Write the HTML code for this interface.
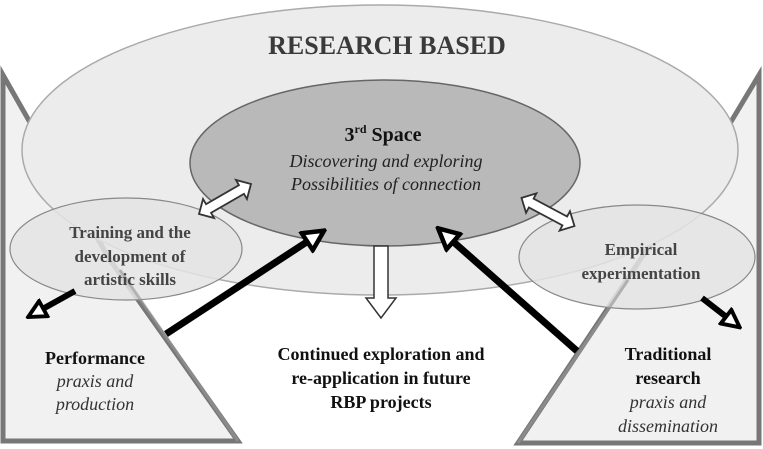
<!DOCTYPE html>
<html><head><meta charset="utf-8"><style>
html,body{margin:0;padding:0;background:#fff}
svg{display:block}
svg text{font-family:"Liberation Serif","Times New Roman","Nimbus Roman","DejaVu Serif",serif}
</style></head><body>
<svg width="763" height="449" viewBox="0 0 763 449">
<defs>
<marker id="open" viewBox="0 0 10 10" refX="8" refY="5" markerWidth="3.6" markerHeight="3.6" orient="auto" markerUnits="strokeWidth">
<path d="M1,1 L9,5 L1,9 Z" fill="#fff" stroke="#000" stroke-width="1.8"/>
</marker>
</defs>
<path d="M3,75 L3,441 L238,441 L110,260 L40,140 Z" fill="#f1f1f1" stroke="#777" stroke-width="5"/>
<path d="M759,75 L759,443 L518,443 L640,260 L720,140 Z" fill="#f1f1f1" stroke="#777" stroke-width="5"/>
<ellipse cx="380" cy="150" rx="358" ry="145" fill="#ececec" stroke="#aaa" stroke-width="1.5"/>
<ellipse cx="385" cy="163" rx="195" ry="83" fill="#b9b9b9" stroke="#666" stroke-width="1.5"/>
<ellipse cx="126" cy="249" rx="116" ry="51" fill="#e4e4e4" fill-opacity="0.85" stroke="#888" stroke-width="1.2"/>
<ellipse cx="637" cy="257" rx="118" ry="52" fill="#e4e4e4" fill-opacity="0.85" stroke="#888" stroke-width="1.2"/>
<line x1="238" y1="441" x2="120" y2="270" stroke="#999" stroke-width="3" opacity="0.6"/>
<line x1="518" y1="443" x2="628" y2="280" stroke="#999" stroke-width="3" opacity="0.6"/>
<line x1="166" y1="334" x2="322" y2="232" stroke="#000" stroke-width="7" marker-end="url(#open)"/>
<line x1="577" y1="351" x2="440" y2="230" stroke="#000" stroke-width="7" marker-end="url(#open)"/>
<line x1="75" y1="291" x2="30" y2="316" stroke="#000" stroke-width="6" marker-end="url(#open)"/>
<line x1="702" y1="298" x2="738" y2="326" stroke="#000" stroke-width="6" marker-end="url(#open)"/>
<path d="M374,246 L388,246 L388,298 L396,298 L381,318 L366,298 L374,298 Z" fill="#fff" stroke="#333" stroke-width="1.5"/>
<g transform="translate(225,199) rotate(-30)">
<path d="M-30,0 L-19,-11 L-19,-5 L19,-5 L19,-11 L30,0 L19,11 L19,5 L-19,5 L-19,11 Z" fill="#fff" stroke="#333" stroke-width="1.8"/>
</g>
<g transform="translate(548,212) rotate(28)">
<path d="M-30,0 L-19,-11 L-19,-5 L19,-5 L19,-11 L30,0 L19,11 L19,5 L-19,5 L-19,11 Z" fill="#fff" stroke="#333" stroke-width="1.8"/>
</g>
<text x="387" y="54" text-anchor="middle" font-size="26" font-weight="bold" fill="#3a3a3a">RESEARCH BASED</text>
<text x="383" y="141" text-anchor="middle" font-size="20" font-weight="bold" fill="#111">3<tspan font-size="12" dy="-8">rd</tspan><tspan dy="8"> Space</tspan></text>
<g font-style="italic" font-size="18" fill="#222" text-anchor="middle">
<text x="386" y="167">Discovering and exploring</text>
<text x="386" y="190">Possibilities of connection</text>
</g>
<g font-weight="bold" font-size="17" fill="#444" text-anchor="middle">
<text x="130" y="238">Training and the</text>
<text x="130" y="262">development of</text>
<text x="130" y="285">artistic skills</text>
<text x="641" y="255">Empirical</text>
<text x="641" y="279">experimentation</text>
</g>
<g font-weight="bold" font-size="18" fill="#111" text-anchor="middle">
<text x="95" y="364">Performance</text>
<text x="381" y="360">Continued exploration and</text>
<text x="381" y="384">re-application in future</text>
<text x="381" y="408">RBP projects</text>
<text x="668" y="360">Traditional</text>
<text x="668" y="384">research</text>
</g>
<g font-style="italic" font-size="18" fill="#333" text-anchor="middle">
<text x="95" y="387">praxis and</text>
<text x="95" y="410">production</text>
<text x="668" y="408">praxis and</text>
<text x="668" y="432">dissemination</text>
</g>
</svg>
</body></html>
